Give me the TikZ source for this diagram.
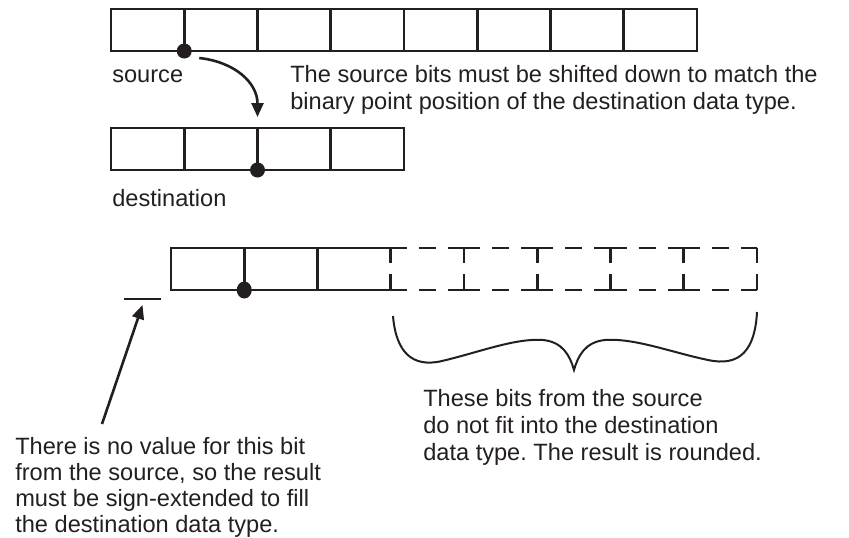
\documentclass[tikz,border=0pt]{standalone}
\usepackage{fontspec}
\setmainfont{Liberation Sans}
\frenchspacing
\usetikzlibrary{arrows.meta,shapes.geometric}
\definecolor{ink}{HTML}{231F20}

\begin{document}
\begin{tikzpicture}[x=1pt,y=-1pt,line width=2.6pt,draw=ink,
    cell/.style={draw,minimum width=73.25pt,minimum height=42pt,inner sep=0pt,outer sep=0pt,anchor=north west},
    binpt/.style={circle,fill=ink,inner sep=0pt,minimum size=15pt},
    note/.style={anchor=base west,inner sep=0pt,align=left,text=ink,font=\fontsize{23.6}{27}\selectfont},
    tip/.style={-{Triangle[length=14pt,width=12pt]}},
    dashh/.style={dash pattern=on 16pt off 12pt on 17pt off 12pt on 16.25pt off 0pt},
    dashv/.style={dash pattern=on 15pt off 11pt on 15pt off 0pt}]
    \useasboundingbox (0,0) rectangle (849,538);
    % source and destination registers
    \foreach \i in {1,...,8}
      \node [cell] (src\i) at ({111+73.25*(\i-1)},9) {};
    \foreach \i in {1,...,4}
      \node [cell] (dst\i) at ({111+73.25*(\i-1)},128) {};
    \node [binpt] (srcpt) at (src1.south east) {};
    \node [binpt] (dstpt) at (dst2.south east) {};
    \draw [tip] ([xshift=15pt,yshift=-7pt]srcpt.center) .. controls +(36,4) and +(0,-34) .. ([yshift=11pt]dst2.north east);
    \node [note] (srclabel) at (111,82) {source};
    \node [note] (dstlabel) at (111,206) {destination};
    % base of a multi-line note is its last line
    \node [note] (shiftnote) at (289,109) {The source bits must be shifted down to match the\\binary point position of the destination data type.};
    % result register, the dropped bits dashed
    \foreach \i in {1,...,8}
      \node [cell,draw=none] (res\i) at ({171+73.25*(\i-1)},248) {};
    \draw (res3.north east) -- (res1.north west) -- (res1.south west) -- (res3.south east);
    \draw (res1.north east) -- (res1.south east) (res2.north east) -- (res2.south east);
    \foreach \i in {4,...,8} {
      \draw [dashh] (res\i.north west) -- (res\i.north east);
      \draw [dashh] (res\i.south west) -- (res\i.south east);
      \draw [dashv] (res\i.north west) -- (res\i.south west);
    }
    \draw [dashv] (res8.north east) -- (res8.south east);
    \node [binpt,ellipse,minimum height=17pt,minimum width=15pt] (respt) at (res1.south east) {};
    % missing sign bit
    \coordinate (signbit) at (142.5,299);
    \coordinate (signtail) at (102,424);
    \draw ([xshift=-18.5pt]signbit) -- ([xshift=18.5pt]signbit);
    \draw [tip] (signtail) -- ([yshift=-6pt]signbit);
    \node [note,font=\fontsize{23.6}{26}\selectfont] (signnote) at (14,532) {There is no value for this bit\\from the source, so the result\\must be sign-extended to fill\\the destination data type.};
    % brace under the dropped bits
    \draw [line width=2pt] (393,316) .. controls (396,352) and (412,368) .. (442,361)
      .. controls (480,352) and (515,338) .. (543,340)
      .. controls (563,342) and (570,356) .. (574,370)
      .. controls (578,356) and (585,342) .. (605,340)
      .. controls (635,338) and (670,352) .. (708,360)
      .. controls (740,367) and (755,350) .. (757,312);
    \node [note] (roundnote) at (422,460) {These bits from the source\\do not fit into the destination\\data type. The result is rounded.};
\end{tikzpicture}
\end{document}
